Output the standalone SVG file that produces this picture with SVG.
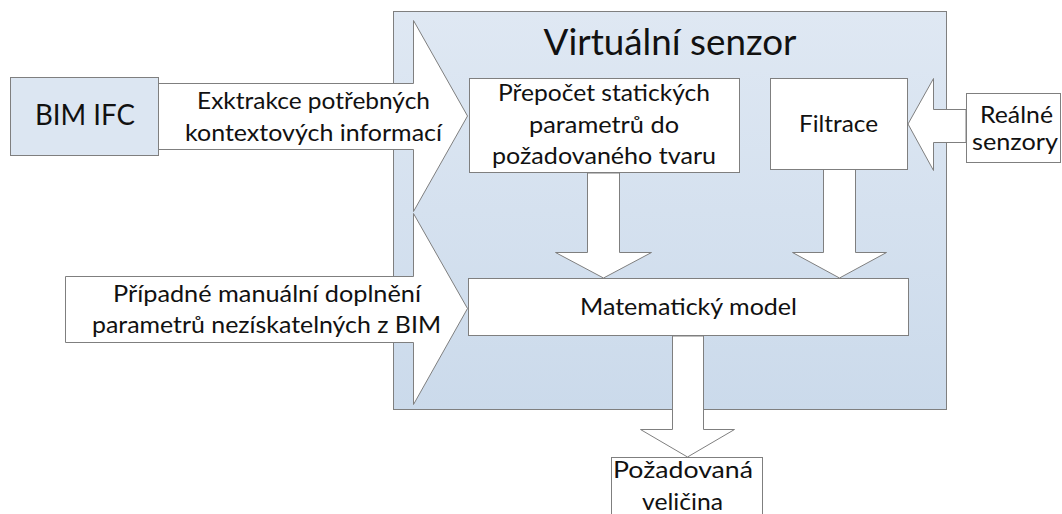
<svg xmlns="http://www.w3.org/2000/svg" width="1062" height="514" viewBox="0 0 1062 514">
  <defs>
    <linearGradient id="vsGrad" x1="0" y1="0" x2="0" y2="1">
      <stop offset="0" stop-color="#dfe8f3"/>
      <stop offset="1" stop-color="#cbdaeb"/>
    </linearGradient>
  </defs>
  <style>
    .box { fill: #ffffff; stroke: #7f7f7f; stroke-width: 1; }
    .blue { fill: #dce6f2; stroke: #7f7f7f; stroke-width: 1; }
    .arrow { fill: #ffffff; stroke: #7f7f7f; stroke-width: 1; stroke-linejoin: miter; }
    text { font-family: Lato, "Liberation Sans", sans-serif; fill: #111111; text-anchor: middle; }
    .t { font-size: 24px; }
    .title { font-size: 36px; }
    .big { font-size: 29px; }
  </style>

  <g id="virtual-sensor">
    <rect x="393.5" y="11.5" width="553" height="398" fill="url(#vsGrad)" stroke="#7f7f7f" stroke-width="1"/>
    <text class="title" x="670" y="55" textLength="253" lengthAdjust="spacingAndGlyphs">Virtuální senzor</text>
  </g>

  <g id="connectors">
    <polygon id="arrow-extrakce" class="arrow" points="158.5,83.5 413.5,83.5 413.5,20.5 467.5,116 413.5,211.5 413.5,149.5 158.5,149.5"/>
    <text class="t" x="313.5" y="109" textLength="233" lengthAdjust="spacingAndGlyphs">Exktrakce potřebných</text>
    <text class="t" x="313.5" y="141" textLength="257" lengthAdjust="spacingAndGlyphs">kontextových informací</text>

    <polygon id="arrow-manual" class="arrow" points="65.5,276.5 413.5,276.5 413.5,213.5 467.5,308.5 413.5,404.5 413.5,342.5 65.5,342.5"/>
    <text class="t" x="267" y="302" textLength="308" lengthAdjust="spacingAndGlyphs">Případné manuální doplnění</text>
    <text class="t" x="266.5" y="333" textLength="349" lengthAdjust="spacingAndGlyphs">parametrů nezískatelných z BIM</text>

    <polygon id="arrow-prepocet-model" class="arrow" points="587.5,173 587.5,252.5 555.5,252.5 603.5,278 651.5,252.5 619.5,252.5 619.5,173"/>
    <polygon id="arrow-filtrace-model" class="arrow" points="823.5,169 823.5,252.5 792.5,252.5 839.5,278 886.5,252.5 855.5,252.5 855.5,169"/>
    <polygon id="arrow-realne-filtrace" class="arrow" points="966,109.5 933.5,109.5 933.5,78.5 908,124 933.5,170.5 933.5,142.5 966,142.5"/>
    <polygon id="arrow-model-output" class="arrow" points="672.5,336 672.5,429.5 640.5,429.5 687.5,457 734.5,429.5 703.5,429.5 703.5,336"/>
  </g>

  <g id="bim-ifc">
    <rect class="blue" x="10.5" y="77.5" width="148" height="78"/>
    <text class="big" x="85" y="125" textLength="100" lengthAdjust="spacingAndGlyphs">BIM IFC</text>
  </g>

  <g id="prepocet">
    <rect class="box" x="469.5" y="78.5" width="270" height="94"/>
    <text class="t" x="604" y="101" textLength="212" lengthAdjust="spacingAndGlyphs">Přepočet statických</text>
    <text class="t" x="604" y="133" textLength="150" lengthAdjust="spacingAndGlyphs">parametrů do</text>
    <text class="t" x="604" y="164" textLength="224" lengthAdjust="spacingAndGlyphs">požadovaného tvaru</text>
  </g>

  <g id="filtrace">
    <rect class="box" x="770.5" y="78.5" width="137" height="91"/>
    <text class="t" x="838.5" y="132" textLength="79" lengthAdjust="spacingAndGlyphs">Filtrace</text>
  </g>

  <g id="matematicky-model">
    <rect class="box" x="468.5" y="278.5" width="440" height="57"/>
    <text class="t" x="688.5" y="315" textLength="217" lengthAdjust="spacingAndGlyphs">Matematický model</text>
  </g>

  <g id="realne-senzory">
    <rect class="box" x="966.5" y="93.5" width="94" height="69"/>
    <text class="t" x="1016.5" y="123" textLength="73" lengthAdjust="spacingAndGlyphs">Reálné</text>
    <text class="t" x="1015" y="150" textLength="86" lengthAdjust="spacingAndGlyphs">senzory</text>
  </g>

  <g id="pozadovana-velicina">
    <rect class="box" x="611.5" y="457.5" width="151" height="70"/>
    <text class="t" x="683" y="478" textLength="140" lengthAdjust="spacingAndGlyphs">Požadovaná</text>
    <text class="t" x="682.5" y="510" textLength="81" lengthAdjust="spacingAndGlyphs">veličina</text>
  </g>
</svg>
